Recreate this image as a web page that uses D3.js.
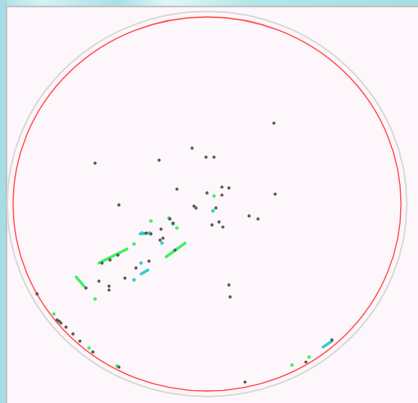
<!DOCTYPE html>
<html>
<head>
<meta charset="utf-8">
<script src="https://cdn.jsdelivr.net/npm/d3@7"></script>
<style>
  html, body { margin: 0; padding: 0; overflow: hidden; }
  body { width: 418px; height: 403px; }
</style>
</head>
<body>
<div id="chart"></div>
<script>
// positions in plot units: circle edge at radius 100, centre at (0,0)
const darkX = [34.5, -7.7, -57.7, -24.7, -0.5, 3.6, -15.5, 7.7, 11.3, 0, 7.7, 35.1, -45.4, -6.7, -5.7, 4.6,
  21.7, 26.3, 6.2, 2.6, 8.2, -23.7, -19.1, -17.5, -31.4, -28.9, -24.2, -22.7, -16.5, -45.9, -50.0, -54.1,
  -29.9, -36.6, -42.3, -55.7, -62.4, -50.5, -50.5, 11.3, 11.9, -87.6, -77.3, -76.3, -75.3, -72.7, -69.1,
  -65.5, -58.8, -45.4, 19.6, 51.0, 64.4];
const darkY = [43.3, 29.9, 21.9, 23.5, 25.1, 25.1, 8.0, 9.1, 8.6, 5.9, 4.8, 5.3, -0.5, -1.1, -2.1, -2.1,
  -6.4, -8.0, -9.6, -11.2, -12.3, -13.4, -8.0, -10.2, -15.5, -16.0, -19.3, -18.2, -24.6, -27.3, -29.9, -31.6,
  -30.5, -34.2, -39.6, -41.2, -44.9, -43.9, -46.0, -43.3, -49.7, -48.1, -62.0, -62.6, -63.6, -65.8, -69.5,
  -73.3, -79.1, -87.2, -95.2, -84.5, -72.7];

const greenX = [3.6, -28.9, -19.6, -15.5, -37.6, -57.7, -78.9, -60.8, -46.4, 43.8, 52.6];
const greenY = [4.3, -9.1, -7.5, -12.8, -21.4, -50.8, -58.8, -77.0, -86.6, -86.1, -81.8];

const cyanX = [3.1, -17.5, -33.5, -23.2, -34.0, -37.6];
const cyanY = [-3.7, -10.7, -15.5, -20.9, -31.6, -40.6];

// short trails: [x1, y1, x2, y2]
const greenTrails = [
  [-21.1, -28.3, -11.3, -20.9],
  [-41.2, -24.1, -55.7, -31.6],
  [-67.5, -39.0, -63.4, -43.9]
];
const cyanTrails = [
  [-34.0, -37.4, -30.4, -35.3],
  [59.8, -76.5, 64.4, -73.3],
  [-34.5, -16.0, -29.4, -15.5]
];

const width = 418;
const height = 403;

const svg = d3
  .select("#chart")
  .append("svg")
  .attr("width", width)
  .attr("height", height);

// washed cyan backdrop behind the panel
const defs = svg.append("defs");
const bg = defs
  .append("linearGradient")
  .attr("id", "bg")
  .attr("x1", "0")
  .attr("y1", "0")
  .attr("x2", "1")
  .attr("y2", "0");
bg.append("stop").attr("offset", "0").attr("stop-color", "#ace0e6");
bg.append("stop").attr("offset", "0.1").attr("stop-color", "#d6f2f4");
bg.append("stop").attr("offset", "0.28").attr("stop-color", "#a9dfe6");
bg.append("stop").attr("offset", "0.4").attr("stop-color", "#e2f6f6");
bg.append("stop").attr("offset", "0.6").attr("stop-color", "#b2e6e6");
bg.append("stop").attr("offset", "1").attr("stop-color", "#a8dde4");

svg
  .append("rect")
  .attr("width", width)
  .attr("height", height)
  .attr("fill", "url(#bg)");

// left edge strip is a deeper cyan
svg
  .append("rect")
  .attr("width", 7)
  .attr("height", height)
  .attr("fill", "#a6dce3");

svg
  .append("rect")
  .attr("x", 6.5)
  .attr("y", 6.5)
  .attr("width", width)
  .attr("height", height)
  .attr("fill", "#fdf6fb")
  .attr("stroke", "#bdbdbd")
  .attr("stroke-width", 1.5);

const x = d3.scaleLinear().domain([-100, 100]).range([13, 401]);
const y = d3.scaleLinear().domain([-100, 100]).range([391, 17]);

// outer grey ring and red horizon
svg
  .append("ellipse")
  .attr("cx", x(0))
  .attr("cy", y(0))
  .attr("rx", x(103) - x(0))
  .attr("ry", y(-103) - y(0))
  .attr("fill", "none")
  .attr("stroke", "#d9d9d9")
  .attr("stroke-width", 1.6);

svg
  .append("ellipse")
  .attr("cx", x(0))
  .attr("cy", y(0))
  .attr("rx", x(100) - x(0))
  .attr("ry", y(-100) - y(0))
  .attr("fill", "none")
  .attr("stroke", "#ff5c5c")
  .attr("stroke-width", 1.3);

const trail = (list, colour) => {
  svg
    .append("g")
    .selectAll("line")
    .data(list)
    .enter()
    .append("line")
    .attr("x1", d => x(d[0]))
    .attr("y1", d => y(d[1]))
    .attr("x2", d => x(d[2]))
    .attr("y2", d => y(d[3]))
    .attr("stroke", colour)
    .attr("stroke-width", 2.8)
    .attr("stroke-linecap", "round");
};

trail(greenTrails, "#3cf060");
trail(cyanTrails, "#2fcfc8");

const dots = (xs, ys, colour, r) => {
  svg
    .append("g")
    .selectAll("circle")
    .data(d3.zip(xs, ys))
    .enter()
    .append("circle")
    .attr("cx", d => x(d[0]))
    .attr("cy", d => y(d[1]))
    .attr("r", r)
    .attr("fill", colour);
};

dots(greenX, greenY, "#3cf060", 1.8);
dots(cyanX, cyanY, "#2fcfc8", 1.8);
dots(darkX, darkY, "#555555", 1.6);
</script>
</body>
</html>
